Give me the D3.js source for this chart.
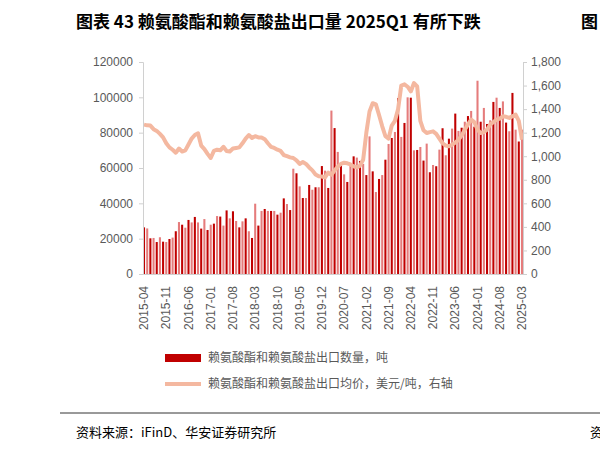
<!DOCTYPE html>
<html lang="en">
<head>
<meta charset="UTF-8" />
<script src="https://cdnjs.cloudflare.com/ajax/libs/d3/7.8.4/d3.min.js"></script>
<style>
  body { margin: 0; background: #fff; font-family: "Noto Sans CJK SC", sans-serif; overflow: hidden; }
  svg { display: block; }
  .tick text { fill: #595959; font-family: "Liberation Sans", Arial, sans-serif; font-size: 12px; }
</style>
</head>
<body>
<svg width="600" height="449"></svg>
<script>
  const volume = [
    26400,25800,20200,20400,18100,20800,18300,18100,19800,20600,
    24200,29400,27900,26200,30600,29200,32300,29200,25700,31100,
    24900,27900,28500,32800,32500,27400,36000,31500,35500,30000,
    26400,29800,31500,24200,20400,39800,27400,35700,36800,35700,
    35700,35700,33600,34700,42800,39600,36200,59600,57000,49600,
    43000,43000,50400,47700,49100,49100,61100,58500,48700,92500,
    82600,69100,61300,56400,52100,62800,66600,65900,64000,62300,
    56000,77900,58100,46400,53800,56000,64700,73600,77000,80400,
    99600,77600,85500,100000,99800,70000,70200,71900,64200,73800,
    57600,61700,61000,70400,82500,67200,76600,82300,90800,81000,
    82800,86200,89400,92300,83400,109400,86200,94000,84900,87000,
    97400,99800,94000,97700,85700,80800,102500,81700,75000,81700
  ];
  const price = [
    1268,1262,1260,1230,1215,1190,1160,1110,1075,1055,
    1030,1065,1040,1050,1100,1150,1180,1195,1090,1060,
    1020,985,1045,1055,1050,1080,1045,1040,1065,1070,
    1075,1110,1150,1180,1155,1170,1160,1160,1145,1110,
    1080,1070,1055,1045,1010,1000,990,985,965,935,
    950,935,905,880,845,830,828,820,860,843,
    880,910,935,945,940,930,914,905,920,970,
    1200,1380,1450,1440,1350,1254,1170,1150,1260,1300,
    1400,1600,1610,1590,1550,1621,1593,1300,1220,1197,
    1205,1211,1190,1150,1110,1090,1084,1098,1115,1140,
    1175,1225,1270,1310,1290,1225,1197,1205,1225,1270,
    1290,1310,1320,1339,1335,1325,1340,1353,1300,1140
  ];
  const months = d3.range(120).map(i => {
    const m = 3 + i;
    const y = 2015 + Math.floor(m / 12);
    return y + "-" + String(m % 12 + 1).padStart(2, "0");
  });
  const tickMonths = months.filter((d, i) => i % 7 === 0);

  const svg = d3.select("svg");
  const mLeft = 143, mRight = 523, mTop = 62, mBottom = 274;

  svg.append("text").attr("x", 76).attr("y", 28)
    .style("font-size", "17px").style("font-weight", "bold").attr("fill", "#000")
    .text("图表 43 赖氨酸酯和赖氨酸盐出口量 2025Q1 有所下跌");
  svg.append("text").attr("x", 581).attr("y", 28)
    .style("font-size", "17px").style("font-weight", "bold").text("图");

  const x = d3.scaleBand().domain(months).range([mLeft, mRight]).paddingInner(0.35);
  const yL = d3.scaleLinear().domain([0, 120000]).range([mBottom, mTop]);
  const yR = d3.scaleLinear().domain([0, 1800]).range([mBottom, mTop]);

  svg.selectAll(".bar").data(volume).enter().append("rect")
    .attr("x", (d, i) => x(months[i]))
    .attr("width", x.bandwidth())
    .attr("y", d => yL(d))
    .attr("height", d => mBottom - yL(d))
    .attr("fill", (d, i) => i % 2 ? "#e57c7c" : "#c00000");

  svg.append("path").datum(price)
    .attr("fill", "none").attr("stroke", "#f4b8a0").attr("stroke-width", 4)
    .attr("stroke-linejoin", "round")
    .attr("d", d3.line().x((d, i) => x(months[i]) + x.bandwidth() / 2).y(d => yR(d)));

  const styleAxis = g => {
    g.select(".domain").attr("stroke", "#d0d0d0");
    g.selectAll(".tick line").attr("stroke", "#d0d0d0");
  };
  svg.append("g").attr("transform", `translate(${mLeft},0)`)
    .call(d3.axisLeft(yL).ticks(6).tickSize(4).tickPadding(6).tickFormat(d3.format("d")))
    .call(styleAxis);
  svg.append("g").attr("transform", `translate(${mRight},0)`)
    .call(d3.axisRight(yR).ticks(9).tickSize(4).tickPadding(4))
    .call(styleAxis);
  const xa = svg.append("g").attr("transform", `translate(0,${mBottom})`)
    .call(d3.axisBottom(x).tickValues(tickMonths).tickSize(0).tickPadding(6))
    .call(styleAxis);
  xa.selectAll("text")
    .attr("text-anchor", "end").attr("dx", "-0.5em").attr("dy", "0.35em").attr("x", 0).attr("y", 0)
    .attr("transform", "translate(0,6) rotate(-90)");

  const lg = svg.append("g").style("font-size", "12px").attr("fill", "#595959");
  lg.append("rect").attr("x", 165).attr("y", 354).attr("width", 36).attr("height", 8).attr("fill", "#c00000");
  lg.append("text").attr("x", 208).attr("y", 362).text("赖氨酸酯和赖氨酸盐出口数量，吨");
  lg.append("line").attr("x1", 165).attr("x2", 201).attr("y1", 384).attr("y2", 384)
    .attr("stroke", "#f4b8a0").attr("stroke-width", 4);
  lg.append("text").attr("x", 208).attr("y", 388).text("赖氨酸酯和赖氨酸盐出口均价，美元/吨，右轴");

  svg.append("line").attr("x1", 60).attr("x2", 600).attr("y1", 413).attr("y2", 413)
    .attr("stroke", "#000").attr("stroke-width", 0.8);
  svg.append("text").attr("x", 76).attr("y", 437).style("font-size", "13px")
    .text("资料来源：iFinD、华安证券研究所");
  svg.append("text").attr("x", 590).attr("y", 437).style("font-size", "13px").text("资");
</script>
</body>
</html>
